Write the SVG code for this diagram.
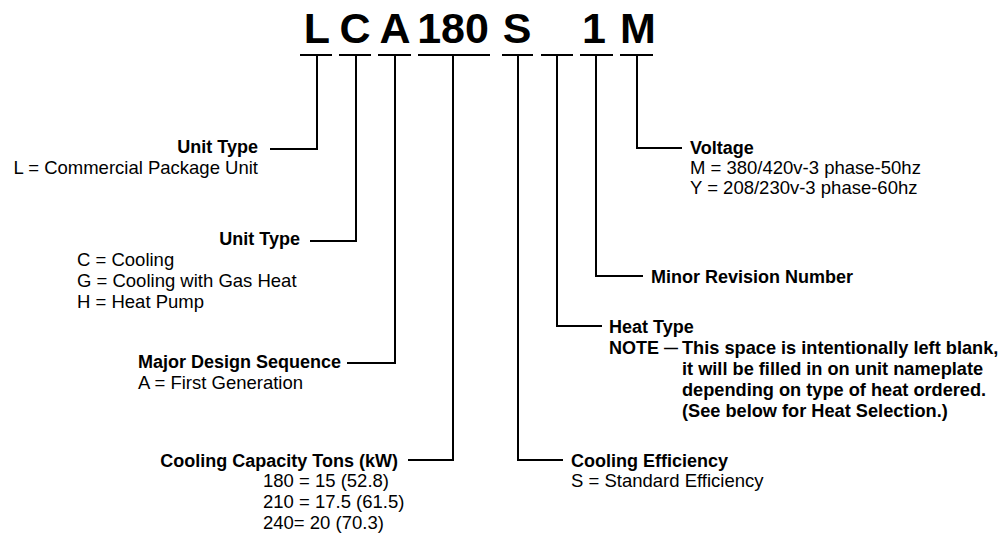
<svg xmlns="http://www.w3.org/2000/svg" width="1002" height="533" viewBox="0 0 1002 533">
<style>
.code{font-family:"Liberation Sans",Arial,sans-serif;font-weight:bold;font-size:43px;fill:#000;text-anchor:middle}
.h{font-family:"Liberation Sans",Arial,sans-serif;font-weight:bold;font-size:18px;fill:#000}
.n{font-size:18.2px}
.t{font-family:"Liberation Sans",Arial,sans-serif;font-size:18.5px;fill:#000}
.r{text-anchor:end}
.ln{fill:none;stroke:#000;stroke-width:2;stroke-linejoin:miter;stroke-linecap:butt}
</style>
<rect width="1002" height="533" fill="#fff"/>
<g id="code">
<text class="code" x="317" y="43">L</text>
<text class="code" x="355" y="43">C</text>
<text class="code" x="395" y="43">A</text>
<text class="code" x="453" y="43">180</text>
<text class="code" x="517" y="43">S</text>
<text class="code" x="594" y="43">1</text>
<text class="code" x="638" y="43">M</text>
</g>
<g id="connectors" class="ln">
<path d="M300 55H332M339 55H371M378 55H411M418 55H490M502 55H533M541 55H573M580 55H613M620 55H653"/>
<polyline points="317,55 317,149 270,149"/>
<polyline points="356,55 356,241 310,241"/>
<polyline points="395,55 395,363 347,363"/>
<polyline points="453,55 453,460 408,460"/>
<polyline points="518,55 518,460 563,460"/>
<polyline points="557,55 557,326 602,326"/>
<polyline points="596,55 596,276 643,276"/>
<polyline points="637,55 637,148 682,148"/>
</g>
<g id="unit-type-l">
<text class="h r" x="258" y="153">Unit Type</text>
<text class="t r" x="258" y="174">L = Commercial Package Unit</text>
</g>
<g id="unit-type-c">
<text class="h r" x="300" y="245">Unit Type</text>
<text class="t" x="77" y="266">C = Cooling</text>
<text class="t" x="77" y="287">G = Cooling with Gas Heat</text>
<text class="t" x="77" y="308">H = Heat Pump</text>
</g>
<g id="major-design">
<text class="h" x="138" y="368">Major Design Sequence</text>
<text class="t" x="138" y="389">A = First Generation</text>
</g>
<g id="cooling-capacity">
<text class="h r" x="398" y="467">Cooling Capacity Tons (kW)</text>
<text class="t" x="263" y="487">180 = 15 (52.8)</text>
<text class="t" x="263" y="508">210 = 17.5 (61.5)</text>
<text class="t" x="263" y="529">240= 20 (70.3)</text>
</g>
<g id="cooling-efficiency">
<text class="h" x="571" y="467">Cooling Efficiency</text>
<text class="t" x="571" y="487">S = Standard Efficiency</text>
</g>
<g id="heat-type">
<text class="h" x="609" y="333">Heat Type</text>
<text class="h" x="609" y="354">NOTE <tspan font-size="14" dy="-1.5">—</tspan></text>
<text class="h n" x="682" y="354">This space is intentionally left blank,</text>
<text class="h n" x="682" y="375">it will be filled in on unit nameplate</text>
<text class="h n" x="682" y="396">depending on type of heat ordered.</text>
<text class="h n" x="682" y="417">(See below for Heat Selection.)</text>
</g>
<g id="minor-revision">
<text class="h" x="651" y="283">Minor Revision Number</text>
</g>
<g id="voltage">
<text class="h" x="690" y="154">Voltage</text>
<text class="t" x="690" y="174">M = 380/420v-3 phase-50hz</text>
<text class="t" x="690" y="194">Y = 208/230v-3 phase-60hz</text>
</g>
</svg>
